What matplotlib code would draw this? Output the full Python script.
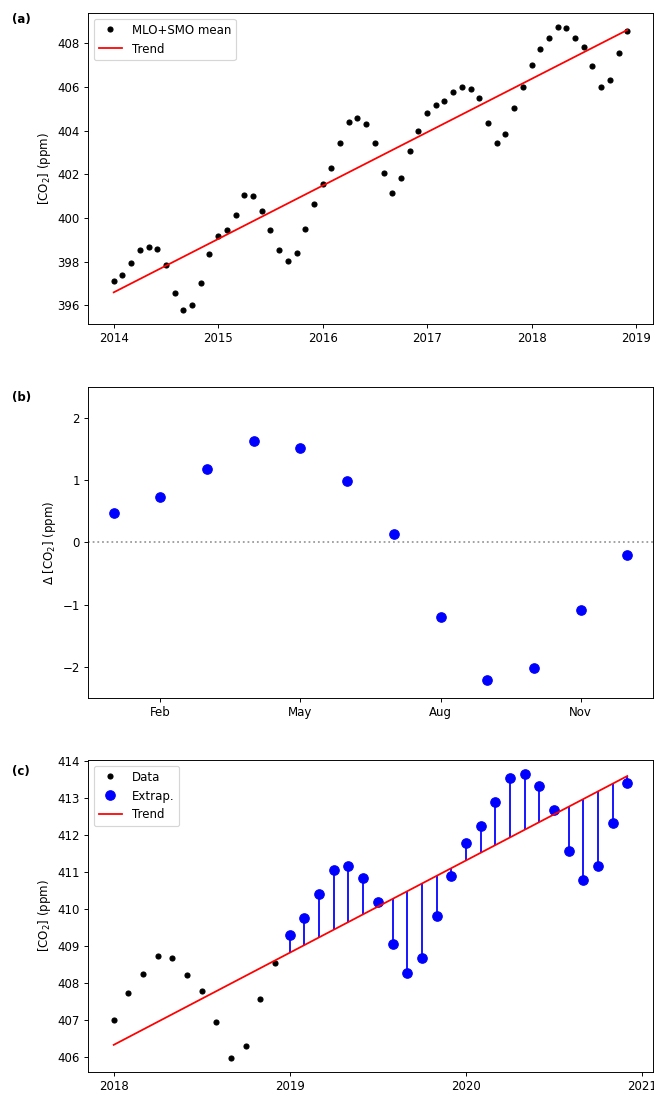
import numpy as np
import matplotlib
matplotlib.use("Agg")
import matplotlib.pyplot as plt

# ---- Panel (a): MLO+SMO monthly means 2014-2018 ----
years_a = [2014, 2015, 2016, 2017, 2018]
co2_a = [
    397.12, 397.38, 397.96, 398.55, 398.66, 398.58, 397.87, 396.55, 395.80, 396.04, 397.02, 398.37,
    399.20, 399.43, 400.13, 401.06, 401.00, 400.31, 399.43, 398.55, 398.02, 398.40, 399.49, 400.65,
    401.56, 402.27, 403.44, 404.37, 404.57, 404.31, 403.43, 402.08, 401.16, 401.83, 403.05, 403.96,
    404.81, 405.19, 405.37, 405.77, 405.99, 405.90, 405.49, 404.34, 403.44, 403.85, 405.01, 405.99,
    407.00, 407.74, 408.24, 408.73, 408.68, 408.23, 407.80, 406.94, 405.98, 406.30, 407.56, 408.55,
]
trend_a_x = [2014.0, 2018 + 11 / 12]
trend_a_y = [396.60, 408.60]

# ---- Panel (b): mean seasonal anomaly ----
months = [1, 2, 3, 4, 5, 6, 7, 8, 9, 10, 11, 12]
delta = [0.47, 0.735, 1.174, 1.63, 1.517, 0.99, 0.129, -1.196, -2.214, -2.01, -1.078, -0.198]
month_ticks = [2, 5, 8, 11]
month_labels = ["Feb", "May", "Aug", "Nov"]

# ---- Panel (c): 2018 data and extrapolation 2019-2020 ----
years_c_data = [2018]
co2_c_data = [407.00, 407.74, 408.24, 408.73, 408.68, 408.23, 407.80, 406.94, 405.98, 406.30, 407.56, 408.55]
years_c_ext = [2019, 2020]
co2_ext = [
    409.30, 409.77, 410.40, 411.06, 411.16, 410.85, 410.19, 409.07, 408.28, 408.68, 409.82, 410.90,
    411.78, 412.26, 412.89, 413.55, 413.65, 413.34, 412.69, 411.57, 410.78, 411.18, 412.32, 413.40,
]
trend_c_x = [2018.0, 2020 + 11 / 12]
trend_c_y = [406.33, 413.60]


def monthly_times(years):
    return np.array([y + m / 12 for y in years for m in range(12)])


t_a = monthly_times(years_a)
t_cd = monthly_times(years_c_data)
t_ce = monthly_times(years_c_ext)

DPI = 85
W, H = 654, 1093
fig = plt.figure(figsize=(W / DPI, H / DPI), dpi=DPI)

def box(left, top, right, bottom):
    return [left / W, 1 - bottom / H, (right - left) / W, (bottom - top) / H]

ax_a = fig.add_axes(box(88, 13, 653, 324))
ax_b = fig.add_axes(box(88, 387, 653, 698))
ax_c = fig.add_axes(box(88, 760, 653, 1072))

co2_label = "[CO$_2$] (ppm)"
small_ms = 4.2
big_ms = 8

# (a)
ax_a.plot(t_a, co2_a, "o", color="black", markersize=small_ms, label="MLO+SMO mean")
ax_a.plot(trend_a_x, trend_a_y, "-", color="red", linewidth=1.5, label="Trend")
ax_a.set_ylabel(co2_label)
ax_a.legend(loc="upper left")
ax_a.set_xticks([2014, 2015, 2016, 2017, 2018, 2019])
ax_a.set_xticklabels(["2014", "2015", "2016", "2017", "2018", "2019"])

# (b)
ax_b.plot(months, delta, "o", color="blue", markersize=big_ms)
ax_b.axhline(0, color="0.6", linestyle=":", linewidth=1.5)
ax_b.set_ylim(-2.5, 2.5)
ax_b.set_yticks([-2, -1, 0, 1, 2])
ax_b.set_xticks(month_ticks)
ax_b.set_xticklabels(month_labels)
ax_b.set_ylabel("Δ [CO$_2$] (ppm)")

# (c)
trend_at_ext = np.interp(t_ce, trend_c_x, trend_c_y)
ax_c.vlines(t_ce, trend_at_ext, co2_ext, color="blue", linewidth=1.5)
ax_c.plot(t_cd, co2_c_data, "o", color="black", markersize=small_ms, label="Data")
ax_c.plot(t_ce, co2_ext, "o", color="blue", markersize=big_ms, label="Extrap.")
ax_c.plot(trend_c_x, trend_c_y, "-", color="red", linewidth=1.5, label="Trend")
ax_c.set_ylabel(co2_label)
ax_c.legend(loc="upper left")
ax_c.set_xticks([2018, 2019, 2020, 2021])
ax_c.set_xticklabels(["2018", "2019", "2020", "2021"])
ax_c.set_xlim(2018 - 0.146, 2020 + 11 / 12 + 0.146)

for ax, lab, ypix in [(ax_a, "(a)", 20), (ax_b, "(b)", 398), (ax_c, "(c)", 772)]:
    fig.text(12 / W, 1 - ypix / H, lab, fontweight="bold", fontsize=10, va="center", ha="left")

fig.savefig("out.png", dpi=DPI)
